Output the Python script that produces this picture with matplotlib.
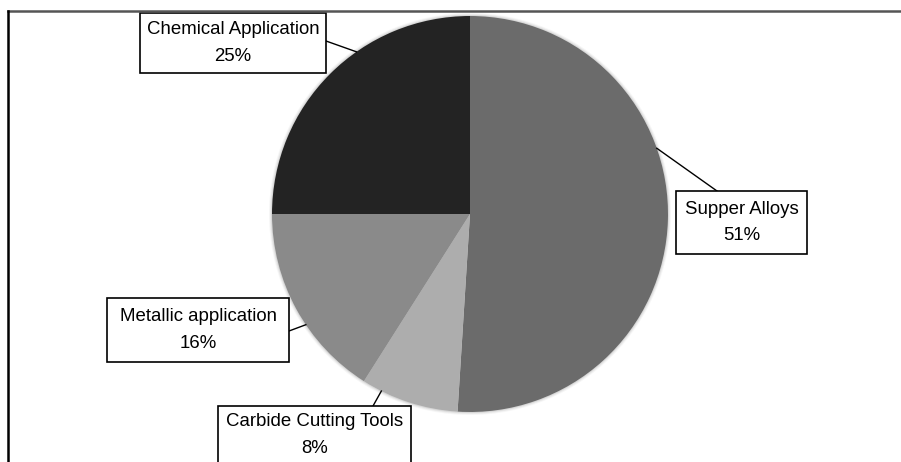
import numpy as np
import matplotlib
matplotlib.use("Agg")
import matplotlib.pyplot as plt
from matplotlib.patches import Rectangle

# data
LABELS = ["Supper Alloys", "Carbide Cutting Tools", "Metallic application", "Chemical Application"]
SHARES = [51, 8, 16, 25]
COLORS = ["#6b6b6b", "#adadad", "#8a8a8a", "#232323"]

# layout (pixels, y measured from the top of the image)
W, H = 901, 462
CX, CY, R = 470, 214, 198
# label box: (left, top, width, height), leader angle on the pie (deg), leader start on box
BOXES = {
    "Supper Alloys": ((676, 191, 131, 63), 19.4, (717, 191)),
    "Carbide Cutting Tools": ((218, 406, 193, 70), 243.4, (373, 406)),
    "Metallic application": ((107, 298, 182, 64), 214.0, (289, 331)),
    "Chemical Application": ((140, 13, 186, 60), 125.0, (326, 41)),
}

FONT = ["Liberation Sans", "DejaVu Sans"]


def main():
    fig = plt.figure(figsize=(W / 100, H / 100), dpi=100)
    ax = fig.add_axes([0, 0, 1, 1])

    # soft edge around the pie
    for k, a in [(3, 0.05), (2, 0.08), (1, 0.12)]:
        ax.add_patch(plt.Circle((CX, H - CY), R + k, color="#555555", alpha=a, lw=0))

    ax.pie(SHARES, colors=COLORS, startangle=90, counterclock=False,
           center=(CX, H - CY), radius=R, wedgeprops=dict(linewidth=0))

    ax.set_xlim(0, W)
    ax.set_ylim(0, H)
    ax.set_aspect("equal")
    ax.axis("off")

    for lab, share in zip(LABELS, SHARES):
        (left, top, bw, bh), ang, (sx, sy) = BOXES[lab]
        ax.add_patch(Rectangle((left, H - top - bh), bw, bh, facecolor="white",
                               edgecolor="black", lw=1.2, zorder=5, clip_on=False))
        ex = CX + R * np.cos(np.radians(ang))
        ey = (H - CY) + R * np.sin(np.radians(ang))
        ax.plot([sx, ex], [H - sy, ey], color="black", lw=1, zorder=4)
        ty = top + 29 if top + bh > H else top + bh / 2
        ax.text(left + bw / 2, H - ty, f"{lab}\n{share}%", ha="center", va="center",
                fontsize=13.4, family=FONT, linespacing=1.75, zorder=6)

    # frame lines of the original chart area
    ax.plot([8, W], [H - 11, H - 11], color="#555555", lw=1.8, clip_on=False, zorder=7)
    ax.plot([8, 8], [H - 11, 0], color="black", lw=1.8, clip_on=False, zorder=7)

    fig.savefig("out.png", dpi=100)
    plt.close(fig)


if __name__ == "__main__":
    main()
